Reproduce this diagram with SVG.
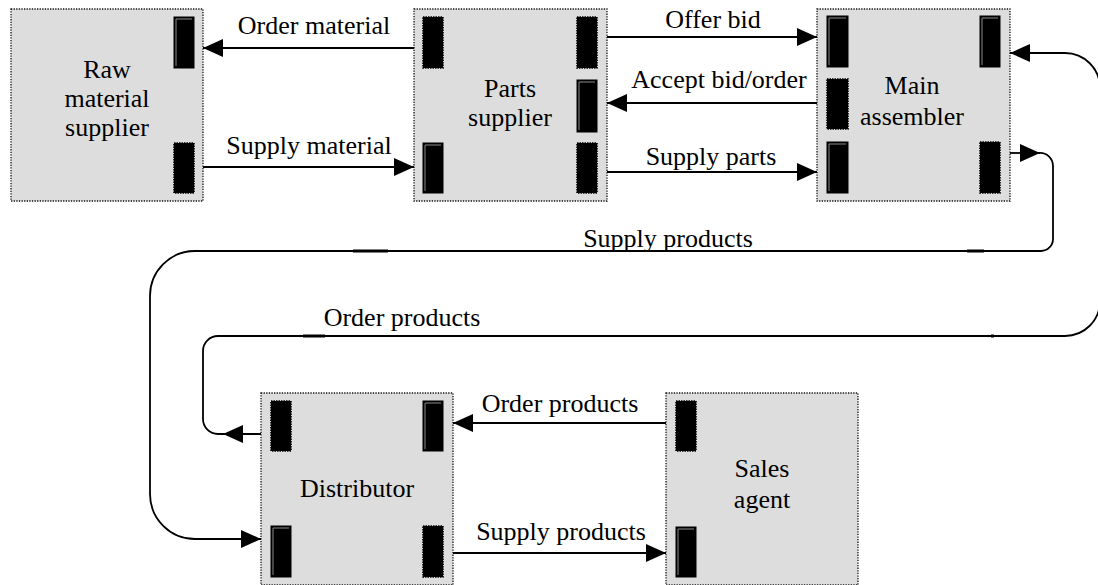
<svg xmlns="http://www.w3.org/2000/svg" width="1098" height="585" viewBox="0 0 1098 585" font-family="'Liberation Serif', 'Times New Roman', Times, serif">
<style>
.box{fill:#dddddd;stroke:#111;stroke-width:1.3;stroke-dasharray:1.3 1.3}
.pin{fill:#000;stroke:#000;stroke-width:1}
.pinhl{fill:none;stroke:#8a8a8a;stroke-width:1}
.pout{fill:#000;stroke:#000;stroke-width:1.6;stroke-dasharray:1.5 1}
.lbl{font-family:'Liberation Serif','Times New Roman',Times,serif;font-size:26px;fill:#000;text-anchor:middle}
.ln{fill:none;stroke:#000;stroke-width:1.8}
.tk{fill:none;stroke:#000;stroke-width:3}
</style>
<defs>
<marker id="ah" markerUnits="userSpaceOnUse" markerWidth="20" markerHeight="18" refX="20" refY="9" orient="auto">
<path d="M0,0 L20,9 L0,18 Z" fill="#000"/>
</marker>
</defs>

<g id="raw">
<rect class="box" x="11" y="9" width="192" height="192"/>
<rect class="pin" x="174" y="17" width="20" height="51"/><polyline class="pinhl" points="176,66 176,19 192,19"/>
<rect class="pout" x="174" y="143" width="20" height="50"/>
<text class="lbl" x="107" y="78">Raw</text>
<text class="lbl" x="107" y="107">material</text>
<text class="lbl" x="107" y="136">supplier</text>
</g>

<g id="parts">
<rect class="box" x="414" y="9" width="193" height="192"/>
<rect class="pout" x="423" y="17" width="20" height="51"/>
<rect class="pout" x="577" y="17" width="20" height="51"/>
<rect class="pin" x="577" y="80" width="20" height="52"/><polyline class="pinhl" points="579,130 579,82 595,82"/>
<rect class="pin" x="423" y="143" width="20" height="50"/><polyline class="pinhl" points="425,191 425,145 441,145"/>
<rect class="pout" x="577" y="143" width="20" height="50"/>
<text class="lbl" x="510" y="97">Parts</text>
<text class="lbl" x="510" y="126">supplier</text>
</g>

<g id="main">
<rect class="box" x="817" y="9" width="193" height="192"/>
<rect class="pin" x="827" y="16" width="21" height="51"/><polyline class="pinhl" points="829,65 829,18 846,18"/>
<rect class="pin" x="980" y="16" width="20" height="51"/><polyline class="pinhl" points="982,65 982,18 998,18"/>
<rect class="pout" x="827" y="79" width="21" height="50"/>
<rect class="pin" x="827" y="142" width="21" height="51"/><polyline class="pinhl" points="829,191 829,144 846,144"/>
<rect class="pout" x="980" y="142" width="20" height="51"/>
<text class="lbl" x="912" y="94">Main</text>
<text class="lbl" x="912" y="125">assembler</text>
</g>

<g id="distributor">
<rect class="box" x="261" y="393" width="192" height="192"/>
<rect class="pout" x="271" y="401" width="20" height="50"/>
<rect class="pin" x="423" y="401" width="20" height="50"/><polyline class="pinhl" points="425,449 425,403 441,403"/>
<rect class="pin" x="271" y="526" width="20" height="51"/><polyline class="pinhl" points="273,575 273,528 289,528"/>
<rect class="pout" x="423" y="526" width="20" height="51"/>
<text class="lbl" x="357" y="497">Distributor</text>
</g>

<g id="sales">
<rect class="box" x="666" y="393" width="192" height="192"/>
<rect class="pout" x="676" y="401" width="20" height="50"/>
<rect class="pin" x="676" y="527" width="20" height="50"/><polyline class="pinhl" points="678,575 678,529 694,529"/>
<text class="lbl" x="762" y="477">Sales</text>
<text class="lbl" x="762" y="508">agent</text>
</g>

<g id="connectors">
<path class="ln" d="M414,48 L203,48" marker-end="url(#ah)"/>
<path class="ln" d="M203,167 L414,167" marker-end="url(#ah)"/>
<path class="ln" d="M607,37 L817,37" marker-end="url(#ah)"/>
<path class="ln" d="M817,103 L607,103" marker-end="url(#ah)"/>
<path class="ln" d="M607,172 L817,172" marker-end="url(#ah)"/>
<path class="ln" d="M666,423 L453,423" marker-end="url(#ah)"/>
<path class="ln" d="M453,553 L666,553" marker-end="url(#ah)"/>

<path class="ln" d="M1010,153 L1040,153" marker-end="url(#ah)"/>
<path class="ln" d="M1039,153 A13,13 0 0 1 1053,166 L1053,239 A12,12 0 0 1 1041,251 L195,251 A45,45 0 0 0 150,296 L150,494 A45,45 0 0 0 195,539 L261,539" marker-end="url(#ah)"/>

<path class="ln" d="M261,434 L223,434" marker-end="url(#ah)"/>
<path class="ln" d="M224,434 L218,434 A15,15 0 0 1 203,419 L203,351 A15,15 0 0 1 218,336 L1065,336 A35,35 0 0 0 1100,301 L1100,88 A35,35 0 0 0 1065,53 L1010,53" marker-end="url(#ah)"/>

<path class="tk" d="M353,251 L388,251 M967,251 L984,251 M303,336 L325,336 M991,336 L994,336"/>

<text class="lbl" x="314" y="34">Order material</text>
<text class="lbl" x="309" y="154">Supply material</text>
<text class="lbl" x="713" y="28">Offer bid</text>
<text class="lbl" x="719" y="88">Accept bid/order</text>
<text class="lbl" x="711" y="165">Supply parts</text>
<text class="lbl" x="668" y="247">Supply products</text>
<text class="lbl" x="402" y="326">Order products</text>
<text class="lbl" x="560" y="412">Order products</text>
<text class="lbl" x="561" y="540">Supply products</text>
</g>
</svg>
